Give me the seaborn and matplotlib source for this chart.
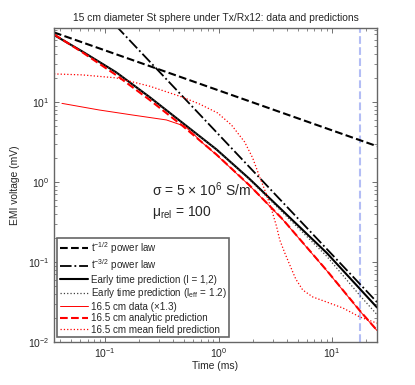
import matplotlib
matplotlib.use("Agg")
import matplotlib.pyplot as plt
import pandas as pd
import seaborn as sns

# values (time in ms, voltage in mV)
t_half = [0.0354, 25.0]
v_half = [74.0, 2.8]

t_three_half = [0.125, 25.0]
v_three_half = [89.0, 0.0315]

t_early = [0.0354, 0.0625, 0.125, 0.245, 0.48, 0.96, 1.88, 4.0, 9.0, 17.7, 25.0]
v_early = [68.8, 43.0, 23.5, 11.6, 5.5, 2.55, 1.09, 0.39, 0.13, 0.046, 0.027]

t_early_eff = [0.0354, 0.0625, 0.125, 0.245, 0.48, 0.96, 1.88, 4.0, 9.0, 17.7, 25.0]
v_early_eff = [68.8, 43.0, 23.5, 11.6, 5.5, 2.55, 1.07, 0.37, 0.118, 0.038, 0.022]

t_data = [0.0416, 0.0885, 0.173, 0.347, 0.5, 0.6, 0.7, 0.96, 1.88, 3.68, 9.0, 17.7, 25.0]
v_data = [9.6, 7.94, 6.88, 5.96, 5.0, 4.0, 3.2, 2.18, 0.9, 0.34, 0.078, 0.0243, 0.0139]

t_analytic = [0.0354, 0.0625, 0.125, 0.245, 0.48, 0.96, 1.88, 3.68, 9.0, 17.7, 25.0]
v_analytic = [70.0, 42.0, 21.7, 10.7, 5.05, 2.2, 0.906, 0.342, 0.0785, 0.0245, 0.014]

t_mean = [0.0354, 0.0625, 0.125, 0.245, 0.48, 0.679, 0.98, 1.30, 1.70, 2.0, 2.31,
          2.66, 3.0, 3.26, 3.47, 3.84, 4.25, 4.80, 5.53, 6.79, 9.0, 12.5, 17.7, 25.0]
v_mean = [22.4, 21.8, 20.0, 15.8, 11.5, 9.44, 7.3, 5.16, 3.16, 2.0, 1.15,
          0.688, 0.41, 0.274, 0.188, 0.13, 0.092, 0.0613, 0.0447, 0.0365, 0.0316, 0.0266, 0.0205, 0.0172]

t_marker = 17.7

labels = [
    r"t$^{-1/2}$ power law",
    r"t$^{-3/2}$ power law",
    "Early time prediction (l = 1,2)",
    r"$\mathrm{Early\ time\ prediction\ (l_{eff}\,=\,1.2)}$",
    "16.5 cm data (\u00d71.3)",
    "16.5 cm analytic prediction",
    "16.5 cm mean field prediction",
]

sns.set_theme(style="ticks")
plt.rcParams["font.family"] = ["Liberation Sans", "DejaVu Sans"]
plt.rcParams["mathtext.fontset"] = "custom"
plt.rcParams["mathtext.rm"] = "Liberation Sans"
plt.rcParams["mathtext.it"] = "Liberation Sans:italic"
plt.rcParams["xtick.direction"] = "in"
plt.rcParams["ytick.direction"] = "in"
plt.rcParams["xtick.top"] = True
plt.rcParams["ytick.right"] = True

fig = plt.figure(figsize=(4.15, 3.85), dpi=100)
ax = fig.add_axes([54 / 415, 1 - 342 / 385, (377 - 54) / 415, (342 - 28) / 385])
ax.set_xscale("log")
ax.set_yscale("log")

series = [
    (t_half, v_half, dict(color="black", linestyle="--", linewidth=1.5)),
    (t_three_half, v_three_half, dict(color="black", linestyle="-.", linewidth=1.3)),
    (t_early, v_early, dict(color="black", linestyle="-", linewidth=1.5)),
    (t_early_eff, v_early_eff, dict(color="0.25", linestyle=":", linewidth=0.9)),
    (t_data, v_data, dict(color="red", linestyle="-", linewidth=0.7)),
    (t_analytic, v_analytic, dict(color="red", linestyle="--", linewidth=1.5)),
    (t_mean, v_mean, dict(color="red", linestyle=":", linewidth=0.9)),
]

for (t, v, style), lab in zip(series, labels):
    df = pd.DataFrame({"t": t, "v": v})
    sns.lineplot(data=df, x="t", y="v", ax=ax, estimator=None, sort=False,
                 label=lab, **style)

ax.axvline(t_marker, color="#b3bdf5", linestyle="--", linewidth=1.5, zorder=0)

ax.set_xlim(0.0354, 25)
ax.set_ylim(0.01, 84)

ax.set_title("15 cm diameter St sphere under Tx/Rx12: data and predictions",
             fontsize=7.4, pad=5)
ax.set_xlabel("Time (ms)", fontsize=7.4, labelpad=1)
ax.set_ylabel("EMI voltage (mV)", fontsize=7.4, labelpad=6)

ax.tick_params(which="major", labelsize=7.5, length=3.5, width=0.6, color="0.35", pad=3)
ax.tick_params(which="minor", length=2, width=0.5, color="0.35")
for s in ax.spines.values():
    s.set_color("0.4")
    s.set_linewidth(1.0)

ax.text(0.303, 0.484, "\u03c3 = 5 \u00d7 10$^{6}$ S/m", transform=ax.transAxes,
        fontsize=10, va="center", ha="left")
ax.text(0.303, 0.414, "\u03bc$_{\\mathrm{rel}}$ = 100", transform=ax.transAxes,
        fontsize=10, va="center", ha="left")

leg = ax.legend(loc="lower left", bbox_to_anchor=(0.010, 0.016), borderaxespad=0,
                fontsize=7.1, handlelength=2.9, handletextpad=0.25,
                labelspacing=0.15, borderpad=0.25, fancybox=False, framealpha=1)
leg.get_frame().set_edgecolor("0.4")
leg.get_frame().set_linewidth(1.2)

fig.savefig("out.png", dpi=100)
